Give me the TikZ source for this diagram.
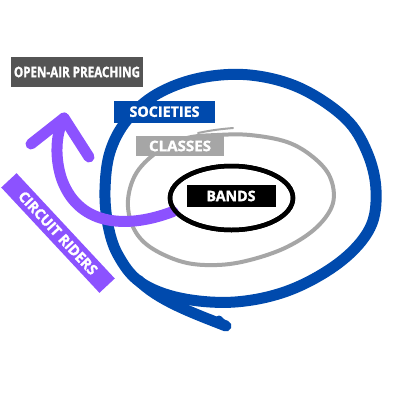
\documentclass[tikz,border=0pt]{standalone}
\usepackage{fontspec}
\setmainfont{Open Sans}[BoldFeatures={FakeBold=1.6}]
\usetikzlibrary{shapes.geometric}
\definecolor{cblue}{HTML}{004AAD}
\definecolor{cpurp}{HTML}{8C52FF}
\definecolor{cgray}{HTML}{A6A6A6}
\definecolor{cdark}{HTML}{545454}
\newcommand{\lab}[2]{\resizebox{#1pt}{10.5pt}{\bfseries #2}}
\begin{document}
\begin{tikzpicture}[x=1pt,y=-1pt,
  bluering/.style={draw=cblue,line width=11,line cap=round,line join=round},
  grayring/.style={draw=cgray,line width=4},
  purp/.style={draw=cpurp,line width=11,line cap=round},
  lblbox/.style={inner sep=0pt,text=white,rectangle}]
\useasboundingbox (0,0) rectangle (400,400);
\fill[white] (0,0) rectangle (400,400);
% outer blue loop
\draw[bluering] plot[smooth cycle,tension=0.6] coordinates {(105,190) (108,225) (118,255) (140,282) (180,298) (235,302) (290,290) (340,262) (370,228) (376,190) (367,152) (345,118) (300,88) (250,75) (200,78) (157,94) (127,120) (110,152)};
\coordinate (tailstart) at (138,280);
\coordinate (tailend) at (226,326);
\coordinate (hook) at (219,319);
\draw[bluering] (tailstart) .. controls (158,300) and (190,312) .. (tailend);
\draw[draw=cblue,line width=7,line cap=round] (tailend) -- (hook);
% gray loop
\draw[grayring] plot[smooth cycle,tension=0.6] coordinates {(128,200) (133,227) (150,247) (183,262) (217,265) (250,260) (287,247) (317,227) (333,203) (330,177) (313,157) (287,142) (250,135) (217,135) (187,138) (160,150) (137,172)};
\draw[draw=cgray,line width=2,line cap=round] (198,133) .. controls (212,130) and (222,129) .. (233,128);
% bands ring
\node[ellipse,draw=black,line width=4.5,minimum width=123,minimum height=64,inner sep=0] (bandsring) at (231.5,198) {};
% purple arrow
\coordinate (tip) at (64,118);
\coordinate (armL) at (31,144);
\coordinate (armR) at (89,157);
\draw[purp] (bandsring.193) .. controls (130,228) and (80,228) .. (62,180) .. controls (55,160) and (55,135) .. (tip);
\draw[purp] (tip) -- (armL);
\draw[purp] (tip) -- (armR);
\node[ellipse,draw=black,line width=4.5,minimum width=123,minimum height=64,inner sep=0] at (231.5,198) {};
% labels
\node[lblbox,fill=cdark,minimum width=132,minimum height=30.5] (openair) at (77,72) {\lab{126}{OPEN-AIR PREACHING}};
\node[lblbox,fill=cblue,minimum width=101,minimum height=22] (societies) at (164.5,111.7) {\lab{70}{SOCIETIES}};
\node[lblbox,fill=cgray,minimum width=88,minimum height=20] (classes) at (180,146) {\lab{62}{CLASSES}};
\node[lblbox,fill=black,minimum width=89,minimum height=22] (bands) at (231,196) {\lab{49}{BANDS}};
\node[lblbox,fill=cpurp,minimum width=144,minimum height=21,rotate=-47] (riders) at (58,233) {\lab{108}{CIRCUIT RIDERS}};
\end{tikzpicture}
\end{document}
